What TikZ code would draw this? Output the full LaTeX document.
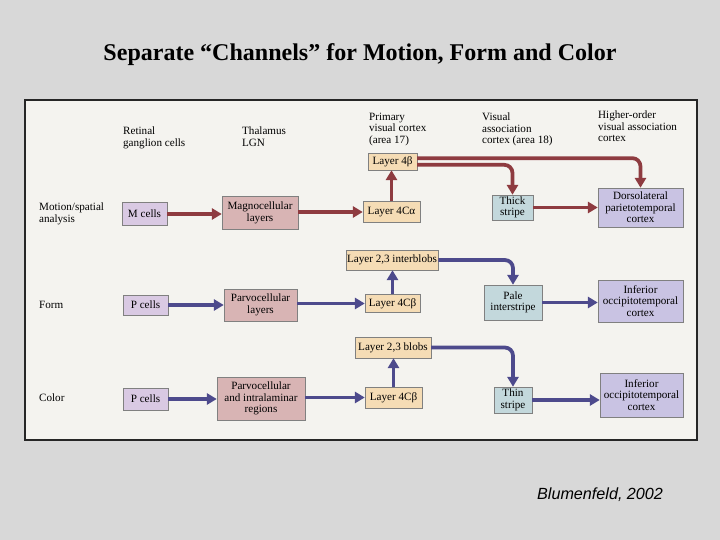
\documentclass[tikz,border=0pt]{standalone}
\usepackage{fontspec}
\setmainfont{Liberation Serif}
\newfontfamily\creditfont{Liberation Sans}
\usetikzlibrary{arrows.meta}

\definecolor{slidegray}{HTML}{D8D8D8}
\definecolor{pagewhite}{HTML}{F4F3EF}
\definecolor{motionred}{HTML}{8E3B40}
\definecolor{formblue}{HTML}{4D4A8C}
\definecolor{retinafill}{HTML}{D9C9E3}
\definecolor{lgnfill}{HTML}{D8B4B4}
\definecolor{vonefill}{HTML}{F5DCB5}
\definecolor{vtwofill}{HTML}{C3D8DC}
\definecolor{higherfill}{HTML}{C9C3E3}

\begin{document}
\begin{tikzpicture}[
    x=0.03cm, y=-0.03cm,
    font=\fontsize{9.5}{9.8}\selectfont,
    box/.style={draw=black!50, inner sep=1pt, align=center},
    retina/.style={box, fill=retinafill},
    lgn/.style={box, fill=lgnfill},
    vone/.style={box, fill=vonefill},
    vtwo/.style={box, fill=vtwofill},
    higher/.style={box, fill=higherfill},
    head/.style={align=left, anchor=north west},
    motion/.style={draw=motionred, line width=3.2pt, rounded corners=7pt,
      -{Triangle[length=8.5pt, width=9.5pt]}},
    form/.style={motion, draw=formblue}
  ]
    \useasboundingbox (0,0) rectangle (720,540);
    \fill[slidegray] (0,0) rectangle (720,540);
    \node[font=\fontsize{20.5}{22}\selectfont\bfseries] (title) at (360,55)
      {Separate “Channels” for Motion, Form and Color};
    \draw[fill=pagewhite, draw=black!85, line width=1pt] (25,100) rectangle (697,440);
    \node[anchor=west, font=\creditfont\itshape\fontsize{13.8}{15}\selectfont] (credit)
      at (533,495) {Blumenfeld, 2002};

    \node[head] (hretina) at (119,123) {Retinal\\ganglion cells};
    \node[head] (hlgn) at (238,123) {Thalamus\\LGN};
    \node[head] (hvone) at (365,109) {Primary\\visual cortex\\(area 17)};
    \node[head] (hvtwo) at (478,109) {Visual\\association\\cortex (area 18)};
    \node[head] (hhigher) at (594,107) {Higher-order\\visual association\\cortex};

    \node[anchor=west, align=left] (rmotion) at (35,214) {Motion/spatial\\analysis};
    \node[anchor=west] (rform) at (35,305) {Form};
    \node[anchor=west] (rcolor) at (35,398) {Color};

    \node[retina, minimum width=1.35cm, minimum height=0.69cm] (mcells) at (144.5,214) {M cells};
    \node[lgn, minimum width=2.28cm, minimum height=0.99cm] (magno) at (260,213) {Magnocellular\\layers};
    \node[vone, minimum width=1.47cm, minimum height=0.51cm] (lfourb) at (392.5,161.5) {Layer 4β};
    \node[vone, minimum width=1.71cm, minimum height=0.63cm] (lfourca) at (391.5,212) {Layer 4Cα};
    \node[vtwo, minimum width=1.23cm, minimum height=0.75cm] (thick) at (512.5,207.5) {Thick\\stripe};
    \node[higher, minimum width=2.55cm, minimum height=1.17cm] (dorso) at (640.5,207.5) {Dorsolateral\\parietotemporal\\cortex};
    \node[vone, minimum width=2.7cm, minimum height=0.6cm] (inter) at (392,260) {Layer 2,3 interblobs};

    \node[retina, minimum width=1.35cm, minimum height=0.6cm] (pcellsf) at (145.5,305) {P cells};
    \node[lgn, minimum width=2.19cm, minimum height=0.96cm] (parvo) at (260.5,305) {Parvocellular\\layers};
    \node[vone, minimum width=1.65cm, minimum height=0.54cm] (lfourcbf) at (392.5,303.5) {Layer 4Cβ};
    \node[vtwo, minimum width=1.74cm, minimum height=1.05cm] (pale) at (513,302.5) {Pale\\interstripe};
    \node[higher, minimum width=2.55cm, minimum height=1.26cm] (inff) at (640.5,301) {Inferior\\occipitotemporal\\cortex};
    \node[vone, minimum width=2.28cm, minimum height=0.63cm] (blobs) at (393,347.5) {Layer 2,3 blobs};

    \node[retina, minimum width=1.35cm, minimum height=0.66cm] (pcellsc) at (145.5,399) {P cells};
    \node[lgn, minimum width=2.64cm, minimum height=1.29cm] (parvoint) at (261,398.5) {Parvocellular\\and intralaminar\\regions};
    \node[vone, minimum width=1.71cm, minimum height=0.63cm] (lfourcbc) at (393.5,397.5) {Layer 4Cβ};
    \node[vtwo, minimum width=1.14cm, minimum height=0.78cm] (thin) at (513,400) {Thin\\stripe};
    \node[higher, minimum width=2.49cm, minimum height=1.32cm] (infc) at (641.5,395) {Inferior\\occipitotemporal\\cortex};

    \draw[motion] (mcells.east) -- (mcells.east -| magno.west);
    \draw[motion] (magno.east |- lfourca) -- (lfourca.west);
    \draw[motion] (lfourca.north) -- (lfourca.north |- lfourb.south);
    \draw[motion] ([yshift=-1mm]lfourb.east) -| (thick.north);
    \draw[motion] ([yshift=1mm]lfourb.east) -| (dorso.north);
    \draw[motion] (thick.east) -- (thick.east -| dorso.west);

    \draw[form] (pcellsf.east) -- (pcellsf.east -| parvo.west);
    \draw[form] (parvo.east |- lfourcbf) -- (lfourcbf.west);
    \draw[form] (lfourcbf.north) -- (lfourcbf.north |- inter.south);
    \draw[form] (inter.east) -| (pale.north);
    \draw[form] (pale.east) -- (pale.east -| inff.west);

    \draw[form] (pcellsc.east) -- (pcellsc.east -| parvoint.west);
    \draw[form] (parvoint.east |- lfourcbc) -- (lfourcbc.west);
    \draw[form] (lfourcbc.north) -- (lfourcbc.north |- blobs.south);
    \draw[form] (blobs.east) -| (thin.north);
    \draw[form] (thin.east) -- (thin.east -| infc.west);
  \end{tikzpicture}
\end{document}
